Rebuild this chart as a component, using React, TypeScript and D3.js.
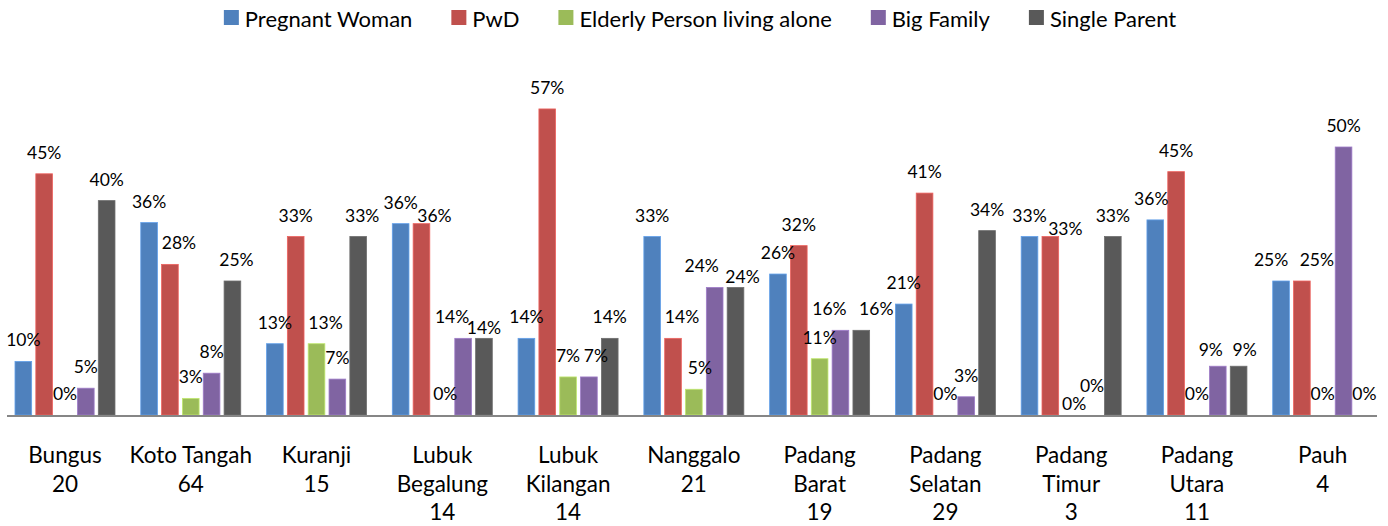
import { useEffect, useRef } from 'react';
import * as d3 from 'd3';

// district names (wrapped as in the original) and respondent counts
const categories = [
  ['Bungus'], ['Koto Tangah'], ['Kuranji'], ['Lubuk', 'Begalung'], ['Lubuk', 'Kilangan'],
  ['Nanggalo'], ['Padang', 'Barat'], ['Padang', 'Selatan'], ['Padang', 'Timur'], ['Padang', 'Utara'], ['Pauh'],
];
const respondents = [20, 64, 15, 14, 14, 21, 19, 29, 3, 11, 4];

const seriesNames = ['Pregnant Woman', 'PwD', 'Elderly Person living alone', 'Big Family', 'Single Parent'];
const seriesColors = ['#4F81BD', '#C0504D', '#9BBB59', '#8064A2', '#595959'];

// percentages per district
const pregnant = [10, 35.9, 13.3, 35.7, 14.3, 33.3, 26.3, 20.7, 33.3, 36.4, 25];
const pwd = [45, 28.1, 33.3, 35.7, 57.1, 14.3, 31.6, 41.4, 33.3, 45.4, 25];
const elderly = [0, 3.1, 13.3, 0, 7.1, 4.8, 10.5, 0, 0, 0, 0];
const bigFamily = [5, 7.8, 6.7, 14.3, 7.1, 23.8, 15.8, 3.4, 0, 9.1, 50];
const singleParent = [40, 25, 33.3, 14.3, 14.3, 23.8, 15.8, 34.4, 33.3, 9.1, 0];

const seriesValues = [pregnant, pwd, elderly, bigFamily, singleParent];

// manual label shifts like the excel chart has ("category-series": [dx, dy])
const labelNudge: Record<string, [number, number]> = {
  '1-1': [9, 0], '1-4': [4, 0],
  '2-2': [9, 0], '2-4': [4, 0],
  '3-1': [13, 13], '3-2': [3, 0], '3-3': [-11, 0], '3-4': [0, 11],
  '4-3': [7, 0],
  '5-1': [9, 0], '5-2': [6, 0], '5-3': [-13, 0], '5-4': [7, 11],
  '6-3': [-11, 0], '6-4': [15, 0],
  '8-1': [15, 13], '8-2': [3, 10], '8-3': [0, -8],
  '9-0': [-4, 0], '9-3': [-7, 5], '9-4': [6, 5],
  '10-0': [-10, 0], '10-1': [15, 0],
};

const W = 1388;
const H = 526;
const FONT = 'Lato, "Open Sans", sans-serif';

export default function App() {
  const svgRef = useRef<SVGSVGElement>(null);

  useEffect(() => {
    document.body.style.margin = '0';
    const svg = d3.select(svgRef.current);
    svg.selectAll('*').remove();

    const base = 415;
    const x = d3.scaleBand<number>()
      .domain(d3.range(categories.length))
      .range([2.1, 1385.6])
      .paddingInner(0.205)
      .paddingOuter(0.1025);
    const xs = d3.scaleBand<number>()
      .domain(d3.range(seriesNames.length))
      .range([0, x.bandwidth()])
      .paddingInner(0.2);
    const y = d3.scaleLinear().domain([0, 60]).range([base, 93.4]);

    const groups = svg.append('g')
      .selectAll('g')
      .data(categories)
      .join('g')
      .attr('transform', (_, i) => `translate(${x(i)},0)`);

    seriesValues.forEach((vals, s) => {
      groups.append('rect')
        .attr('x', xs(s)!)
        .attr('y', (_, i) => y(vals[i]))
        .attr('width', xs.bandwidth())
        .attr('height', (_, i) => base - y(vals[i]))
        .attr('fill', seriesColors[s])
        .attr('stroke', d3.color(seriesColors[s])!.brighter(0.6).formatHex())
        .attr('stroke-width', 0.8);
    });

    // baseline
    svg.append('line')
      .attr('x1', 7).attr('x2', 1377)
      .attr('y1', base + 1).attr('y2', base + 1)
      .attr('stroke', '#868686').attr('stroke-width', 2);

    // data labels
    seriesValues.forEach((vals, s) => {
      groups.append('text')
        .attr('x', (_, i) => xs(s)! + xs.bandwidth() / 2 + (labelNudge[`${i}-${s}`]?.[0] ?? 0))
        .attr('y', (_, i) => y(vals[i]) - 15 + (labelNudge[`${i}-${s}`]?.[1] ?? 0))
        .attr('text-anchor', 'middle')
        .attr('font-family', FONT)
        .attr('font-size', 17.5)
        .attr('fill', '#000')
        .text((_, i) => `${Math.round(vals[i])}%`);
    });

    // category labels
    const catText = groups.append('text')
      .attr('text-anchor', 'middle')
      .attr('font-family', FONT)
      .attr('font-size', 22.5)
      .attr('fill', '#000');
    catText.each(function (lines, i) {
      const t = d3.select(this);
      [...lines, String(respondents[i])].forEach((ln, k) => {
        t.append('tspan')
          .attr('x', x.bandwidth() / 2)
          .attr('y', 463 + k * 28.5)
          .text(ln);
      });
    });

    // legend, centered
    const legend = svg.append('g');
    const items = legend.selectAll('g').data(seriesNames).join('g');
    items.append('rect')
      .attr('width', 15).attr('height', 15)
      .attr('y', 10)
      .attr('fill', (_, i) => seriesColors[i]);
    const labels = items.append('text')
      .attr('x', 21)
      .attr('y', 27)
      .attr('font-family', FONT)
      .attr('font-size', 22)
      .attr('fill', '#000')
      .text(d => d);
    const widths = labels.nodes().map(n => (n as SVGTextElement).getComputedTextLength());
    const gap = 39;
    const total = d3.sum(widths, w => 21 + w) + gap * (widths.length - 1);
    let cx = 700 - total / 2;
    items.attr('transform', (_, i) => {
      const tx = cx;
      cx += 21 + widths[i] + gap;
      return `translate(${tx},0)`;
    });
  }, []);

  return <svg ref={svgRef} width={W} height={H} style={{ display: 'block', background: '#fff' }} />;
}
